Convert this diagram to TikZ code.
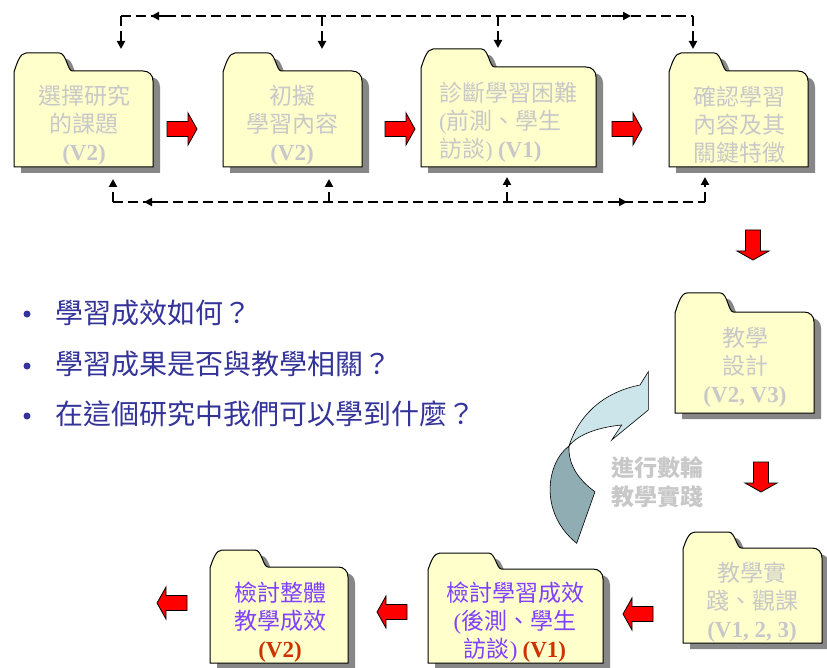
\documentclass[tikz,border=0pt]{standalone}
\usepackage{fontspec}
\setmainfont{Liberation Serif}
\newfontfamily\cjk{Noto Sans CJK TC}
\usetikzlibrary{arrows.meta}
\definecolor{foldfill}{HTML}{FFFFCC}
\definecolor{shadowc}{HTML}{878787}
\definecolor{foldgray}{HTML}{C8C8C8}
\definecolor{purp}{HTML}{8040FF}
\definecolor{vred}{HTML}{CC3300}
\definecolor{qblue}{HTML}{333399}
\definecolor{lightc}{HTML}{CBE5EA}
\definecolor{darkc}{HTML}{8FADB3}
% folder outline: L, R, tab top, body top, bottom
\newcommand\foldp[5]{(#1,#5) -- (#1,{#4+1}) .. controls ({#1+3},{#4-8}) and ({#1+6},#3) .. ({#1+12},#3) -- ({#1+0.42*(#2-#1)-13},#3) .. controls ({#1+0.42*(#2-#1)-6},#3) and ({#1+0.42*(#2-#1)-5},#4) .. ({#1+0.42*(#2-#1)},#4) -- ({#2-10},#4) .. controls ({#2-4},#4) and (#2,{#4+4}) .. (#2,{#4+10}) -- (#2,#5) -- cycle}
\newcommand\folder[5]{%
  \fill[shadowc,shift={(7,6)}] \foldp{#1}{#2}{#3}{#4}{#5};
  \filldraw[fill=foldfill,draw=black,line width=1pt] \foldp{#1}{#2}{#3}{#4}{#5};}
\newcommand\redarr[3]{%
  \begin{scope}[shift={(#1,#2)},rotate=#3]
    \filldraw[fill=red,draw=black,line width=0.8pt] (-15,-7.5) -- (6,-7.5) -- (6,-16) -- (15,0) -- (6,16) -- (6,7.5) -- (-15,7.5) -- cycle;
  \end{scope}}
\newcommand\vv[1]{{\rmfamily\bfseries #1}}
\newcommand\lp{{\rmfamily (}}
\newcommand\rp{{\rmfamily )}}
\tikzset{
  foldtext/.style={font=\cjk\fontsize{23}{28}\selectfont, text=foldgray, align=center, inner sep=0},
  evaltext/.style={font=\cjk\fontsize{23}{28}\selectfont, text=purp, align=center, inner sep=0},
  qtext/.style={font=\cjk\fontsize{28}{30}\selectfont, text=qblue, anchor=west, inner sep=0},
  qdot/.style={circle, fill=qblue, inner sep=0, minimum size=7pt},
  fb/.style={line width=2pt, dash pattern=on 10pt off 5pt},
  fbarr/.style={fb, -{Triangle[width=8pt,length=8pt]}},
  midarr/.style={line width=2pt, -{Triangle[width=8pt,length=8pt]}}
}
\begin{document}
\begin{tikzpicture}[x=1pt,y=-1pt]
\useasboundingbox[fill=white] (0,0) rectangle (827,668);

% ---------- folders ----------
\folder{14}{153}{53}{71}{167}
\folder{223}{362}{53}{71}{167}
\folder{421}{596}{49}{67}{167}
\folder{669}{808}{53}{71}{167}
\folder{675}{814}{293}{312}{413}
\folder{683}{822}{532}{548}{643}
\folder{428}{603}{553}{569}{663}
\folder{210}{348}{550}{567}{663}

% ---------- folder texts ----------
\node[foldtext] (f1) at (84,125) {選擇研究\\的課題\\\vv{(V2)}};
\node[foldtext] (f2) at (292,125) {初擬\\學習內容\\\vv{(V2)}};
\node[foldtext, align=left, anchor=west] (f3) at (439,122) {診斷學習困難\\\lp 前測、學生\\訪談\rp{} \vv{(V1)}};
\node[foldtext] (f4) at (739,125) {確認學習\\內容及其\\關鍵特徵};
\node[foldtext] (f5) at (745,367) {教學\\設計\\\vv{(V2, V3)}};
\node[foldtext] (f6) at (752,602) {教學實\\踐、觀課\\\vv{(V1, 2, 3)}};
\node[evaltext] (f7) at (515,622) {檢討學習成效\\\lp 後測、學生\\訪談\rp{} {\color{vred}\vv{(V1)}}};
\node[evaltext] (f8) at (280,622) {檢討整體\\教學成效\\{\color{vred}\vv{(V2)}}};

% ---------- red block arrows ----------
\redarr{182}{129}{0}
\redarr{400}{129}{0}
\redarr{627}{129}{0}
\redarr{753}{245}{-90}
\redarr{761}{477}{-90}
\redarr{638}{614}{180}
\redarr{392}{612}{180}
\redarr{172}{603}{180}

% ---------- dashed feedback lines ----------
\coordinate (tl) at (121,16);
\coordinate (tb) at (322,16);
\coordinate (tc) at (498,16);
\coordinate (tr) at (693,16);
\coordinate (e1) at (121,49);
\coordinate (e2) at (322,49);
\coordinate (e3) at (498,48);
\coordinate (e4) at (693,49);
\draw[fb] (tl) -- (tr);
\draw[fbarr] (tl) -- (e1);
\draw[fbarr] (tb) -- (e2);
\draw[fbarr] (tc) -- (e3);
\draw[fbarr] (tr) -- (e4);
\coordinate (ta1) at (170,16); \coordinate (ta2) at (151,16);
\coordinate (ta3) at (612,16); \coordinate (ta4) at (631,16);
\draw[midarr] (ta1) -- (ta2);
\draw[midarr] (ta3) -- (ta4);

\coordinate (bl) at (113,202);
\coordinate (bb) at (329,202);
\coordinate (bc) at (507,202);
\coordinate (br) at (705,202);
\coordinate (u1) at (113,179);
\coordinate (u2) at (329,179);
\coordinate (u3) at (507,177);
\coordinate (u4) at (705,177);
\draw[fb] (bl) -- (br);
\draw[fbarr] (bl) -- (u1);
\draw[fbarr] (bb) -- (u2);
\draw[fbarr] (bc) -- (u3);
\draw[fbarr] (br) -- (u4);
\coordinate (ba1) at (163,202); \coordinate (ba2) at (144,202);
\coordinate (ba3) at (608,202); \coordinate (ba4) at (627,202);
\draw[midarr] (ba1) -- (ba2);
\draw[midarr] (ba3) -- (ba4);

% ---------- questions ----------
\node[qdot] (d1) at (27,314) {};
\node[qdot] (d2) at (27,366) {};
\node[qdot] (d3) at (27,416) {};
\node[qtext] (q1) at (55,313) {學習成效如何？};
\node[qtext] (q2) at (55,364) {學習成果是否與教學相關？};
\node[qtext] (q3) at (55,414) {在這個研究中我們可以學到什麼？};

% ---------- curved cycle arrow ----------
\filldraw[fill=darkc, draw=black, line width=0.6pt]
  (569,446) .. controls (547,462) and (538,512) .. (576.7,543.3)
  -- (595,491.7) .. controls (580,481) and (568,466) .. cycle;
\filldraw[fill=lightc, draw=black, line width=0.6pt]
  (569,446) .. controls (578,418) and (600,393) .. (640,385)
  -- (648.3,371.7) -- (648.3,410) -- (611.7,440) -- (621.7,425)
  .. controls (600,427) and (578,434) .. cycle;
\node[font=\cjk\bfseries\fontsize{23}{29}\selectfont, text=foldgray, align=center, inner sep=0] (cyc) at (657,482) {進行數輪\\教學實踐};
\end{tikzpicture}
\end{document}
